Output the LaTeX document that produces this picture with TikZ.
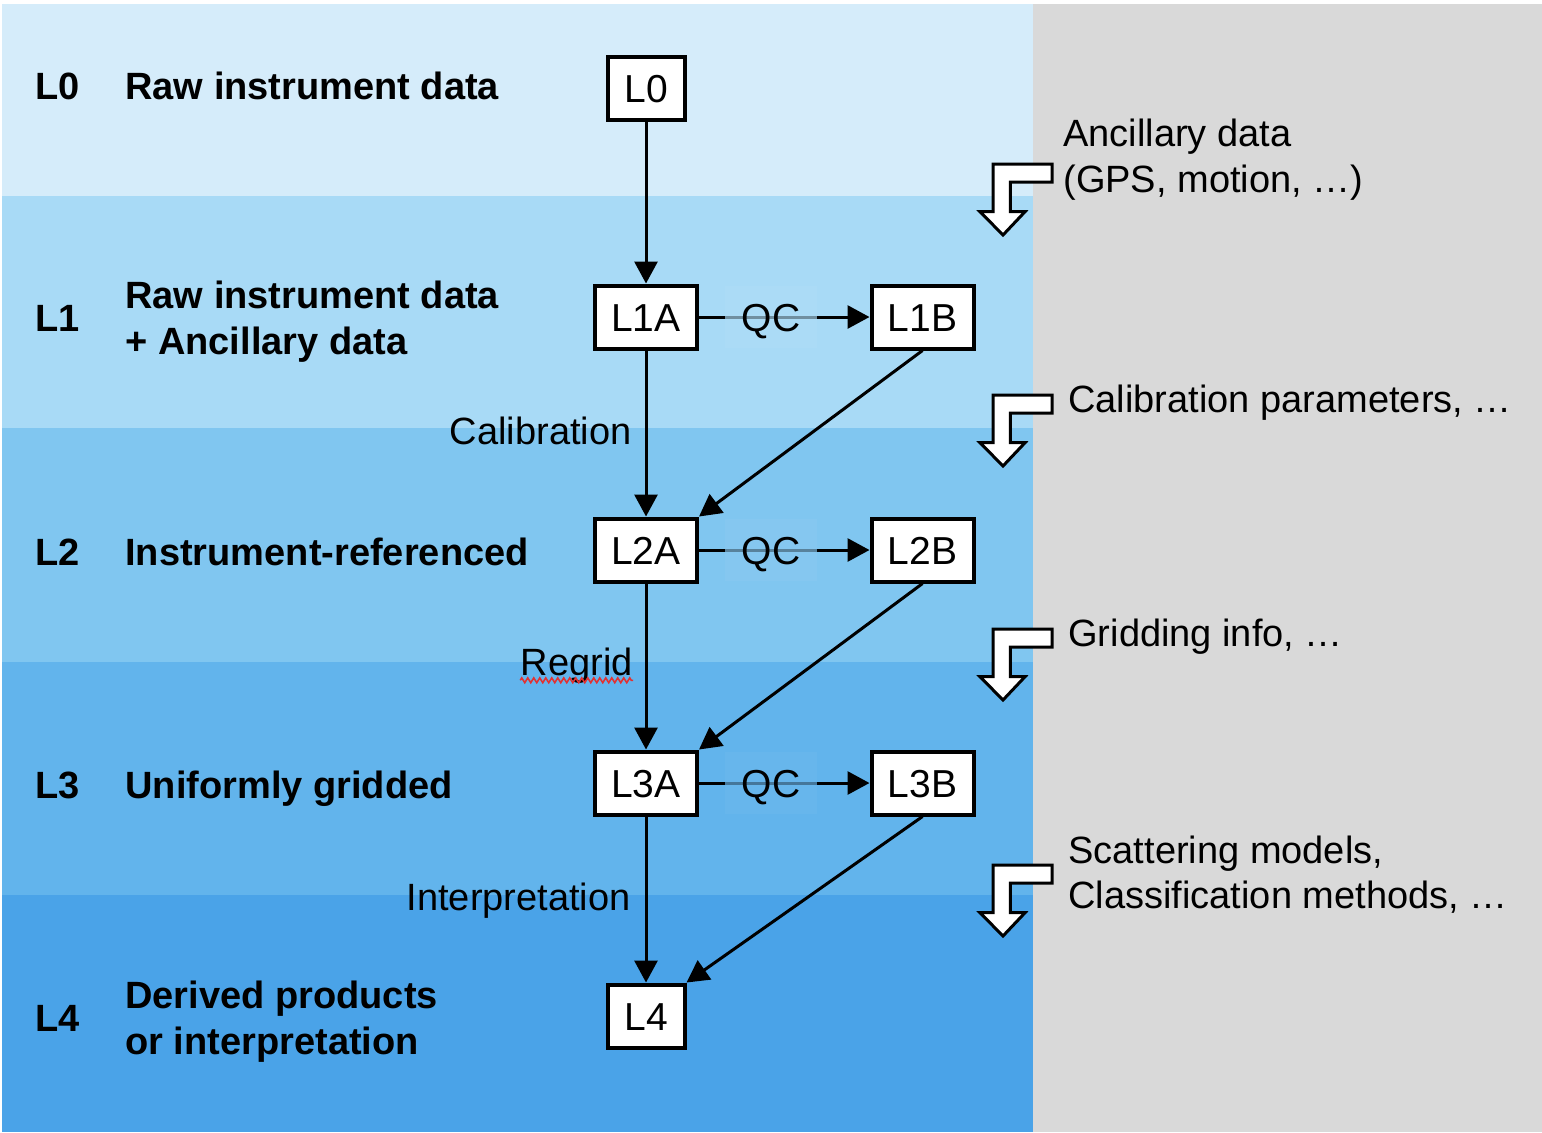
\documentclass[tikz,border=0pt]{standalone}
\usepackage{fontspec}
\setmainfont{Liberation Sans}
\usetikzlibrary{arrows.meta,decorations.pathmorphing}
\definecolor{bandA}{RGB}{213,236,250}
\definecolor{bandB}{RGB}{168,218,246}
\definecolor{bandC}{RGB}{128,198,240}
\definecolor{bandD}{RGB}{98,180,236}
\definecolor{bandE}{RGB}{74,163,232}
\definecolor{sidegray}{RGB}{217,217,217}
\definecolor{spellred}{RGB}{225,50,50}
\begin{document}
\begin{tikzpicture}[x=0.5pt,y=-0.5pt,
  lvl/.style={font=\fontsize{19}{23}\selectfont\bfseries, anchor=base west, inner sep=0},
  side/.style={font=\fontsize{19}{23}\selectfont, anchor=base west, inner sep=0},
  edgelbl/.style={font=\fontsize{19}{23}\selectfont, anchor=base east, inner sep=0},
  wbox/.style={draw, line width=2pt, fill=white, minimum width=51pt, minimum height=31.5pt, inner sep=0, text height=14pt, text depth=0pt, font=\fontsize{19.5}{23}\selectfont},
  nbox/.style={wbox, minimum width=38.5pt},
  flow/.style={line width=1.5pt, -{Triangle[length=11pt,width=11.5pt]}},
  qc/.style={font=\fontsize{19.5}{23}\selectfont, fill opacity=0.65, text opacity=1, minimum width=46pt, minimum height=31pt, inner sep=0, text height=14pt, text depth=0pt},
  hollow/.pic={\draw[line width=1.5pt, fill=white, line join=miter]
     (-10,-71) -- (49,-71) -- (49,-53) -- (7.4,-53) -- (7.4,-23.3) -- (22,-23.3)
     -- (0,0) -- (-23,-23.3) -- (-10,-23.3) -- cycle;}
]
\fill[white] (0,0) rectangle (1542,1132);
\useasboundingbox (0,0) rectangle (1542,1132);
% bands
\fill[bandA] (2,4) rectangle (1033,196);
\fill[bandB] (2,196) rectangle (1033,428);
\fill[bandC] (2,428) rectangle (1033,662);
\fill[bandD] (2,662) rectangle (1033,895);
\fill[bandE] (2,895) rectangle (1033,1132);
\fill[sidegray] (1033,4) rectangle (1542,1132);

% left level labels
\node[lvl] (t0) at (35,99) {L0};
\node[lvl] (d0) at (125,99) {Raw instrument data};
\node[lvl] (t1) at (35,331) {L1};
\node[lvl] (d1a) at (125,308) {Raw instrument data};
\node[lvl] (d1b) at (125,354) {+ Ancillary data};
\node[lvl] (t2) at (35,565) {L2};
\node[lvl] (d2) at (125,565) {Instrument-referenced};
\node[lvl] (t3) at (35,798) {L3};
\node[lvl] (d3) at (125,798) {Uniformly gridded};
\node[lvl] (t4) at (35,1031) {L4};
\node[lvl] (d4a) at (125,1008) {Derived products};
\node[lvl] (d4b) at (125,1054) {or interpretation};

% boxes
\node[nbox] (L0) at (646,88) {L0};
\node[wbox] (L1A) at (646,317) {L1A};
\node[wbox] (L1B) at (922.5,317) {L1B};
\node[wbox] (L2A) at (646,550) {L2A};
\node[wbox] (L2B) at (922.5,550) {L2B};
\node[wbox] (L3A) at (646,783) {L3A};
\node[wbox] (L3B) at (922.5,783) {L3B};
\node[nbox] (L4) at (646,1016) {L4};

% vertical flow
\draw[flow] (L0) -- (L1A);
\draw[flow] (L1A) -- (L2A);
\draw[flow] (L2A) -- (L3A);
\draw[flow] (L3A) -- (L4);

% QC arrows
\draw[flow] (L1A) -- (L1B);
\node[qc, fill=bandB!94!white] (qc1) at (771,317) {QC};
\draw[flow] (L2A) -- (L2B);
\node[qc, fill=bandC!94!white] (qc2) at (771,550) {QC};
\draw[flow] (L3A) -- (L3B);
\node[qc, fill=bandD!94!white] (qc3) at (771,783) {QC};

% diagonal arrows
\draw[flow] (L1B.south) -- (L2A.north east);
\draw[flow] (L2B.south) -- (L3A.north east);
\draw[flow] (L3B.south) -- (L4.north east);

% edge labels
\node[edgelbl] (cal) at (632,444) {Calibration};
\node[edgelbl] (regrid) at (633,675) {Regrid};
\node[edgelbl] (interp) at (631,910) {Interpretation};
\draw[spellred, line width=0.8pt, decorate, decoration={zigzag, amplitude=1.2pt, segment length=3pt}]
  ([yshift=1.5pt]regrid.south west) -- ([yshift=1.5pt]regrid.south east);

% hollow arrows
\pic at (1003,235) {hollow};
\pic at (1003,466) {hollow};
\pic at (1003,700) {hollow};
\pic at (1003,936) {hollow};

% side texts
\node[side] (s1a) at (1063,146) {Ancillary data};
\node[side] (s1b) at (1063,192) {(GPS, motion, …)};
\node[side] (s2) at (1068,412) {Calibration parameters, …};
\node[side] (s3) at (1068,646) {Gridding info, …};
\node[side] (s4a) at (1068,863) {Scattering models,};
\node[side] (s4b) at (1068,908) {Classification methods, …};
\end{tikzpicture}
\end{document}
